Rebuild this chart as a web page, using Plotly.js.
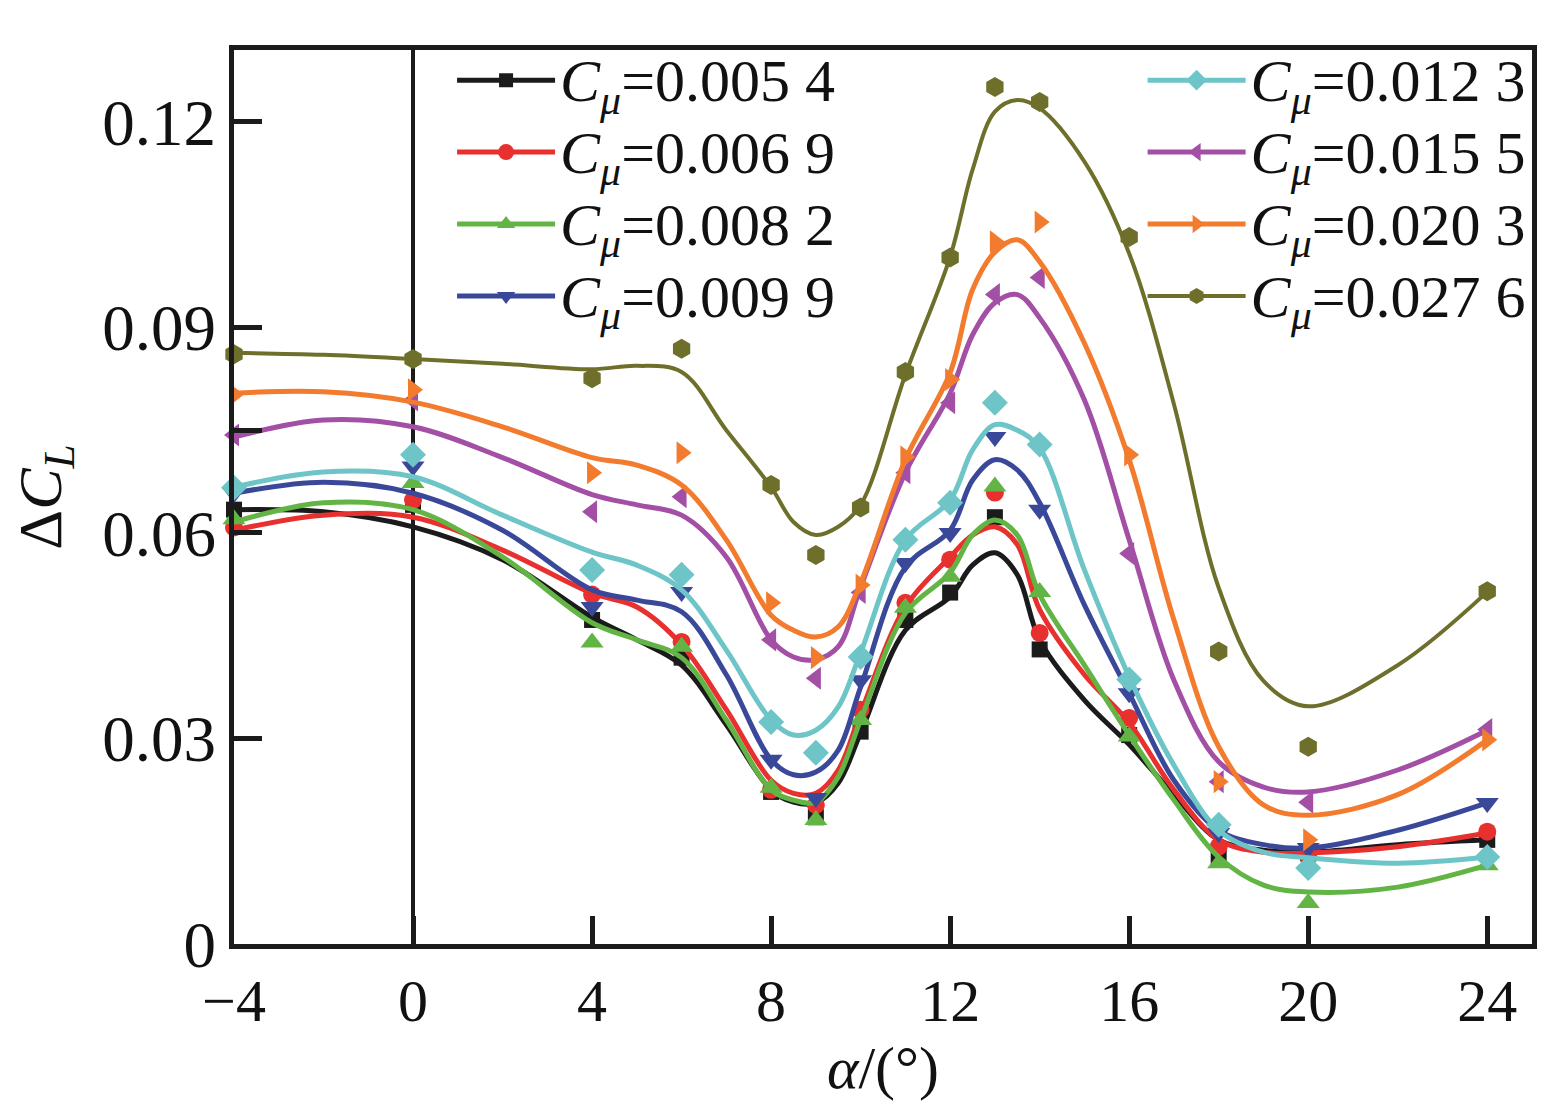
<!DOCTYPE html>
<html>
<head>
<meta charset="utf-8">
<script src="https://cdn.plot.ly/plotly-3.0.1.min.js"></script>
<style>
  html, body { margin: 0; padding: 0; background: #fff; }
  #chart { width: 1563px; height: 1111px; }
</style>
</head>
<body>
<div id="chart"></div>
<script>
// measured points (alpha in degrees)
const alphaPts = [-4, 0, 4, 6, 8, 9, 10, 11, 12, 13, 14, 16, 18, 20, 24];
const pts0054 = [0.0634, 0.0641, 0.0473, 0.0418, 0.0222, 0.0185, 0.0310, 0.0473, 0.0513, 0.0623, 0.0430, 0.0305, 0.0127, 0.0132, 0.0152];
const pts0069 = [0.0608, 0.0648, 0.0510, 0.0441, 0.0225, 0.0203, 0.0342, 0.0498, 0.0561, 0.0659, 0.0454, 0.0330, 0.0142, 0.0130, 0.0164];
const pts0082 = [0.0620, 0.0673, 0.0440, 0.0434, 0.0228, 0.0181, 0.0327, 0.0491, 0.0536, 0.0668, 0.0514, 0.0303, 0.0118, 0.0060, 0.0115];
const pts0099 = [0.0658, 0.0697, 0.0492, 0.0514, 0.0269, 0.0213, 0.0385, 0.0556, 0.0600, 0.0740, 0.0634, 0.0366, 0.0162, 0.0140, 0.0206];
const pts0123 = [0.0666, 0.0714, 0.0546, 0.0539, 0.0324, 0.0279, 0.0419, 0.0590, 0.0644, 0.0790, 0.0729, 0.0386, 0.0174, 0.0111, 0.0127];
const pts0155 = [0.0743, 0.0794, 0.0631, 0.0653, 0.0444, 0.0388, 0.0513, 0.0688, 0.0790, 0.0948, 0.0973, 0.0570, 0.0237, 0.0207, 0.0313];
const pts0203 = [0.0802, 0.0809, 0.0688, 0.0717, 0.0498, 0.0418, 0.0524, 0.0711, 0.0824, 0.1025, 0.1054, 0.0714, 0.0237, 0.0152, 0.0298];
const pts0276 = [0.0861, 0.0854, 0.0826, 0.0869, 0.0670, 0.0568, 0.0637, 0.0835, 0.1002, 0.1251, 0.1229, 0.1032, 0.0427, 0.0288, 0.0515];

// smoothed fit curves
const fitX = [-4, -2, 0, 2, 4, 5, 6, 7, 8, 8.5, 9, 9.5, 10, 11, 12, 12.5, 13, 13.5, 14, 15, 16, 17, 18, 19, 20, 22, 24];
const fit0054 = [0.0634,0.0631,0.0609,0.0561,0.0477,0.0444,0.0407,0.0320,0.0225,0.0207,0.0206,0.0235,0.0308,0.0458,0.0507,0.0553,0.0571,0.0539,0.0444,0.0356,0.0291,0.0218,0.0152,0.0137,0.0134,0.0145,0.0152];
const fit0069 = [0.0604,0.0626,0.0623,0.0575,0.0512,0.0492,0.0437,0.0342,0.0239,0.0220,0.0220,0.0254,0.0337,0.0492,0.0565,0.0597,0.0609,0.0583,0.0488,0.0393,0.0323,0.0225,0.0152,0.0134,0.0133,0.0142,0.0162];
const fit0082 = [0.0616,0.0644,0.0634,0.0565,0.0469,0.0444,0.0418,0.0327,0.0225,0.0210,0.0207,0.0244,0.0327,0.0483,0.0542,0.0597,0.0619,0.0597,0.0510,0.0407,0.0305,0.0210,0.0127,0.0086,0.0076,0.0083,0.0115];
const fit0099 = [0.0658,0.0674,0.0658,0.0604,0.0517,0.0502,0.0485,0.0393,0.0269,0.0247,0.0251,0.0283,0.0375,0.0550,0.0604,0.0677,0.0707,0.0692,0.0644,0.0495,0.0366,0.0239,0.0166,0.0145,0.0140,0.0166,0.0206];
const fit0123 = [0.0667,0.0689,0.0682,0.0626,0.0572,0.0553,0.0517,0.0429,0.0327,0.0305,0.0312,0.0346,0.0425,0.0590,0.0648,0.0721,0.0758,0.0750,0.0724,0.0546,0.0390,0.0261,0.0166,0.0134,0.0126,0.0118,0.0127];
const fit0155 = [0.0740,0.0765,0.0755,0.0710,0.0656,0.0641,0.0626,0.0565,0.0444,0.0419,0.0415,0.0434,0.0521,0.0688,0.0804,0.0889,0.0936,0.0948,0.0914,0.0794,0.0590,0.0385,0.0266,0.0229,0.0222,0.0254,0.0312];
const fit0203 = [0.0804,0.0806,0.0791,0.0755,0.0710,0.0699,0.0670,0.0590,0.0480,0.0458,0.0448,0.0463,0.0527,0.0707,0.0834,0.0955,0.1010,0.1028,0.0996,0.0877,0.0707,0.0473,0.0288,0.0203,0.0188,0.0218,0.0298];
const fit0276 = [0.0863,0.0860,0.0854,0.0847,0.0839,0.0844,0.0835,0.0750,0.0667,0.0616,0.0597,0.0609,0.0641,0.0831,0.1003,0.1130,0.1215,0.1232,0.1220,0.1142,0.1008,0.0788,0.0520,0.0384,0.0347,0.0407,0.0514];

const cmuLabels = ['0.005 4', '0.006 9', '0.008 2', '0.009 9', '0.012 3', '0.015 5', '0.020 3', '0.027 6'];
const yTickVals = [0, 0.03, 0.06, 0.075, 0.09, 0.12];
const yTickText = ['0', '0.03', '0.06', '', '0.09', '0.12'];
const xTickVals = [-4, 0, 4, 8, 12, 16, 20, 24];

const series = [
    { pts: pts0054, fit: fit0054, color: '#1b1b1b', symbol: 'square', size: 16 },
    { pts: pts0069, fit: fit0069, color: '#e8302e', symbol: 'circle', size: 18 },
    { pts: pts0082, fit: fit0082, color: '#62b545', symbol: 'triangle-up', size: 20 },
    { pts: pts0099, fit: fit0099, color: '#3a4899', symbol: 'triangle-down', size: 20 },
    { pts: pts0123, fit: fit0123, color: '#6ec5c8', symbol: 'diamond', size: 20 },
    { pts: pts0155, fit: fit0155, color: '#a24fa5', symbol: 'triangle-left', size: 20 },
    { pts: pts0203, fit: fit0203, color: '#f27b2e', symbol: 'triangle-right', size: 20 },
    { pts: pts0276, fit: fit0276, color: '#6f6f2c', symbol: 'hexagon', size: 20 }
];

const serif = 'Liberation Serif, Times New Roman, serif';
const traces = [];
series.forEach((s, i) => {
    const lw = i === 7 ? 4 : 5;
    const leg = i < 4 ? 'legend' : 'legend2';
    traces.push({
        x: fitX, y: s.fit, mode: 'lines', type: 'scatter',
        line: { color: s.color, width: lw, shape: 'spline', smoothing: 1 },
        showlegend: false, hoverinfo: 'skip'
    });
    traces.push({
        x: alphaPts, y: s.pts, mode: 'markers', type: 'scatter',
        marker: { symbol: s.symbol, size: s.size, color: s.color },
        cliponaxis: false, showlegend: false
    });
    // legend entry (line with marker)
    traces.push({
        x: [null], y: [null], mode: 'lines+markers', type: 'scatter',
        name: '<span style="font-size:60px"><i>C</i><sub><i>μ</i></sub>=' + cmuLabels[i] + '</span>',
        line: { color: s.color, width: lw },
        marker: { symbol: s.symbol, size: s.size - 2, color: s.color },
        legend: leg
    });
});

const legendFont = { family: serif, size: 53, color: '#111' };
const layout = {
    width: 1563, height: 1111,
    margin: { l: 234, r: 31, t: 50, b: 167 },
    paper_bgcolor: '#fff', plot_bgcolor: '#fff',
    font: { family: serif, size: 58, color: '#111' },
    showlegend: true,
    legend: {
        x: 0.168, y: 1.012, xanchor: 'left', yanchor: 'top',
        bgcolor: 'rgba(0,0,0,0)', font: legendFont, itemwidth: 98, tracegroupgap: 0
    },
    legend2: {
        x: 0.7, y: 1.012, xanchor: 'left', yanchor: 'top',
        bgcolor: 'rgba(0,0,0,0)', font: legendFont, itemwidth: 98, tracegroupgap: 0
    },
    xaxis: {
        range: [-4, 25], tickvals: xTickVals,
        ticks: 'inside', ticklen: 28, tickwidth: 5, tickcolor: '#1b1b1b',
        showline: true, linewidth: 5, linecolor: '#1b1b1b', mirror: true,
        showgrid: false, zeroline: true, zerolinecolor: '#1b1b1b', zerolinewidth: 3.5,
        tickfont: { family: serif, size: 60 },
        title: { text: '<i>α</i>/(°)', font: { family: serif, size: 60 }, standoff: 14 }
    },
    yaxis: {
        range: [0, 0.1305], tickvals: yTickVals, ticktext: yTickText,
        ticks: 'inside', ticklen: 28, tickwidth: 5, tickcolor: '#1b1b1b',
        showline: true, linewidth: 5, linecolor: '#1b1b1b', mirror: true,
        showgrid: false, zeroline: false,
        tickfont: { family: serif, size: 65 },
        title: { text: 'Δ<i>C</i><sub><i>L</i></sub>', font: { family: serif, size: 62 }, standoff: 22 }
    }
};

Plotly.newPlot('chart', traces, layout, { displayModeBar: false, staticPlot: true });
</script>
</body>
</html>
